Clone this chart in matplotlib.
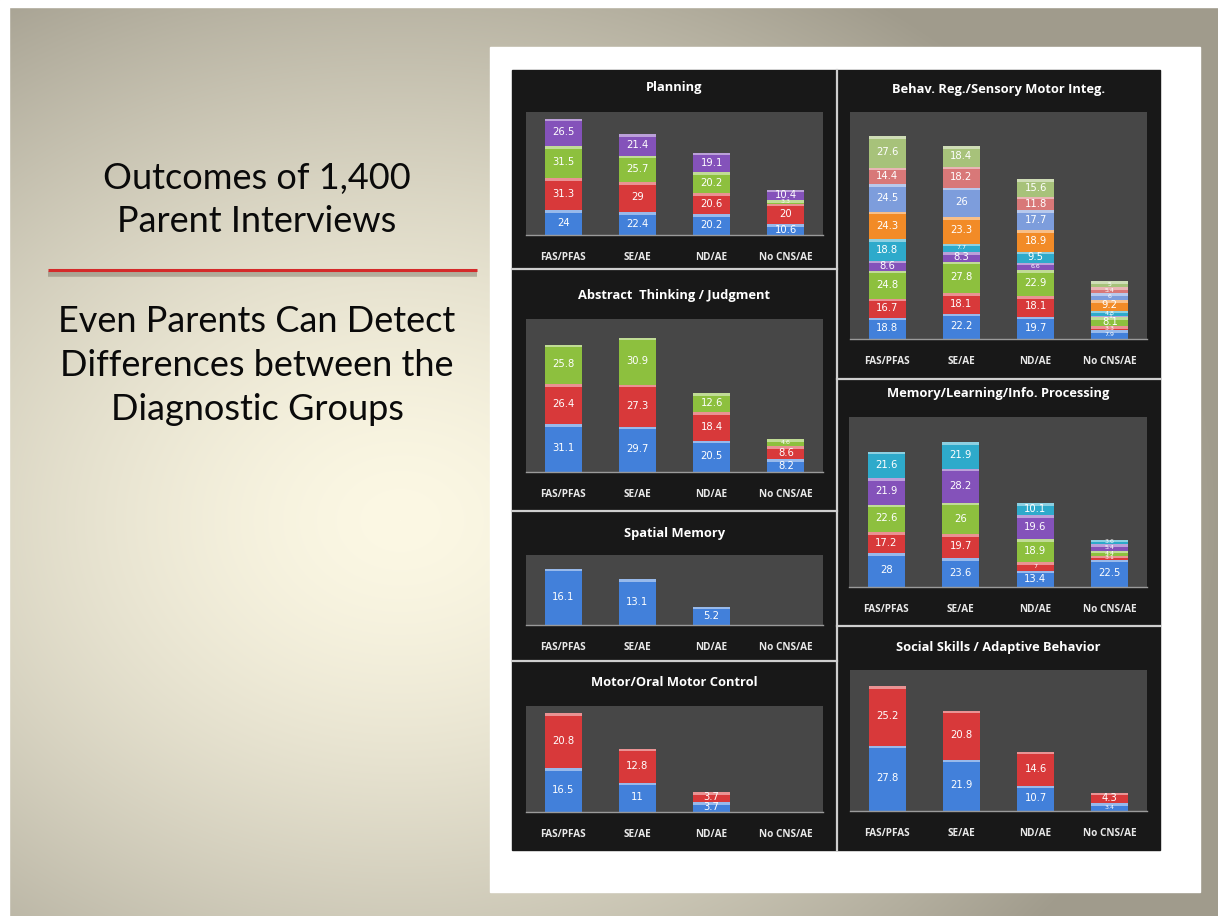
import numpy as np
import matplotlib.pyplot as plt
from matplotlib.patches import Rectangle
import matplotlib.colors as mcolors

W, H = 1218, 916
DPI = 100

groups = ["FAS/PFAS", "SE/AE", "ND/AE", "No CNS/AE"]

# series colours (Excel 2007 style)
blue = "#4280da"
red = "#d8393a"
green = "#8dc03e"
purple = "#8452ba"
cyan = "#2eaacb"
orange = "#f28b27"
lblue = "#7d9ddc"
pink = "#d87878"
lgreen = "#a7c27a"

# --- data (one list per stacked series) ---
planning = [
    [24, 22.4, 20.2, 10.6],
    [31.3, 29, 20.6, 20],
    [31.5, 25.7, 20.2, 3.3],
    [26.5, 21.4, 19.1, 10.4],
]
planning_colors = [blue, red, green, purple]

abstract = [
    [31.1, 29.7, 20.5, 8.2],
    [26.4, 27.3, 18.4, 8.6],
    [25.8, 30.9, 12.6, 4.6],
]
abstract_colors = [blue, red, green]

spatial = [
    [16.1, 13.1, 5.2, 0],
]
spatial_colors = [blue]

motor = [
    [16.5, 11, 3.7, 0],
    [20.8, 12.8, 3.7, 0],
]
motor_colors = [blue, red]

behav = [
    [18.8, 22.2, 19.7, 7.9],
    [16.7, 18.1, 18.1, 3.3],
    [24.8, 27.8, 22.9, 8.1],
    [8.6, 8.3, 6.6, 1.0],
    [18.8, 7.7, 9.5, 4.8],
    [24.3, 23.3, 18.9, 9.2],
    [24.5, 26, 17.7, 6.0],
    [14.4, 18.2, 11.8, 5.4],
    [27.6, 18.4, 15.6, 5.0],
]
behav_colors = [blue, red, green, purple, cyan, orange, lblue, pink, lgreen]

memory = [
    [28, 23.6, 13.4, 22.5],
    [17.2, 19.7, 7, 3.1],
    [22.6, 26, 18.9, 4.4],
    [21.9, 28.2, 19.6, 5.4],
    [21.6, 21.9, 10.1, 3.6],
]
memory_colors = [blue, red, green, purple, cyan]

social = [
    [27.8, 21.9, 10.7, 3.4],
    [25.2, 20.8, 14.6, 4.3],
]
social_colors = [blue, red]

# panels: title, data, colours, y max, plot box (x0, y0, x1, y1 in px), title y
panels = [
    ("Planning", planning, planning_colors, 120, (526, 112, 823, 235), 88),
    ("Abstract  Thinking / Judgment", abstract, abstract_colors, 100, (526, 319, 823, 472), 296),
    ("Spatial Memory", spatial, spatial_colors, 20, (526, 555, 823, 625), 533),
    ("Motor/Oral Motor Control", motor, motor_colors, 40, (526, 706, 823, 812), 683),
    ("Behav. Reg./Sensory Motor Integ.", behav, behav_colors, 200, (850, 112, 1147, 339), 90),
    ("Memory/Learning/Info. Processing", memory, memory_colors, 140, (849, 417, 1147, 587), 393),
    ("Social Skills / Adaptive Behavior", social, social_colors, 60, (850, 670, 1147, 811), 648),
]

fig = plt.figure(figsize=(W / DPI, H / DPI), dpi=DPI)

# background slide
bg = fig.add_axes([0, 0, 1, 1])
bg.set_xlim(0, W)
bg.set_ylim(H, 0)
bg.axis("off")

yy, xx = np.mgrid[0:H, 0:W]
d = np.sqrt(((xx - 400) / 820.0) ** 2 + ((yy - 520) / 640.0) ** 2)
t = np.clip(d, 0, 1) ** 1.5
light = np.array([252, 248, 228]) / 255.0
dark = np.array([160, 155, 140]) / 255.0
img = light[None, None, :] * (1 - t[..., None]) + dark[None, None, :] * t[..., None]
bg.imshow(img, extent=(0, W, H, 0), aspect="auto", zorder=0)
# white margin top/left
bg.add_patch(Rectangle((0, 0), W, 7, color="white", zorder=1))
bg.add_patch(Rectangle((0, 0), 9, H, color="white", zorder=1))

# slide text
tfont = "Lato"
tsize = 26
bg.text(257, 178, "Outcomes of 1,400", ha="center", va="center", fontsize=tsize, family=tfont, color="#0a0a0a")
bg.text(257, 222, "Parent Interviews", ha="center", va="center", fontsize=tsize, family=tfont, color="#0a0a0a")
bg.plot([48, 477], [274, 274], color="#777060", lw=4, alpha=0.45, solid_capstyle="butt", zorder=2)
bg.plot([48, 477], [270, 270], color="#d42a2a", lw=2.2, solid_capstyle="butt", zorder=3)
for i, line in enumerate(["Even Parents Can Detect", "Differences between the", "Diagnostic Groups"]):
    bg.text(257, 322 + 44 * i, line, ha="center", va="center", fontsize=tsize, family=tfont, color="#0a0a0a")

# white card and black chart area
bg.add_patch(Rectangle((490, 47), 710, 845, color="white", zorder=4))
bg.add_patch(Rectangle((512, 70), 648, 780, color="#181818", zorder=5))
sep = "#cfcfcf"
bg.plot([837, 837], [70, 850], color=sep, lw=1.6, zorder=6)
for y in [269, 511, 661]:
    bg.plot([512, 837], [y, y], color=sep, lw=1.6, zorder=6)
for y in [379, 626]:
    bg.plot([837, 1160], [y, y], color=sep, lw=1.6, zorder=6)


def lighter(c, f=0.45):
    r = np.array(mcolors.to_rgb(c))
    return tuple(r + (1 - r) * f)


x = np.arange(len(groups))
for title, data, colors, ymax, box, ty in panels:
    x0, y0, x1, y1 = box
    ax = fig.add_axes([x0 / W, 1 - y1 / H, (x1 - x0) / W, (y1 - y0) / H])
    ax.set_facecolor("#474747")
    ax.set_xlim(-0.5, len(groups) - 0.5)
    ax.set_ylim(0, ymax)
    pxu = (y1 - y0) / ymax  # pixels per unit
    hl = 2.5 / pxu
    bottom = np.zeros(len(groups))
    for vals, c in zip(data, colors):
        vals = np.array(vals, dtype=float)
        ax.bar(x, vals, 0.5, bottom=bottom, color=c, zorder=2)
        ax.bar(x, np.minimum(vals, hl), 0.5, bottom=bottom + vals - np.minimum(vals, hl),
               color=lighter(c), zorder=3)
        for xi, v, b in zip(x, vals, bottom):
            if v > 0:
                fs = 7.2 if v * pxu >= 9 else 4.5
                ax.text(xi, b + v / 2, f"{v:g}", ha="center", va="center",
                        fontsize=fs, color="white", zorder=4)
        bottom += vals
    for s in ["top", "left", "right"]:
        ax.spines[s].set_visible(False)
    ax.spines["bottom"].set_color("#9a9a9a")
    ax.spines["bottom"].set_linewidth(1)
    ax.set_yticks([])
    ax.set_xticks(x)
    ax.set_xticklabels(groups, fontsize=7.2, color="#e8e8e8", fontweight="bold", family="Open Sans")
    ax.tick_params(axis="x", length=0, pad=12)
    bg.text((x0 + x1) / 2, ty, title, ha="center", va="center", fontsize=9.3,
            fontweight="bold", color="white", family="Open Sans", zorder=7)

fig.savefig("out.png", dpi=DPI)
